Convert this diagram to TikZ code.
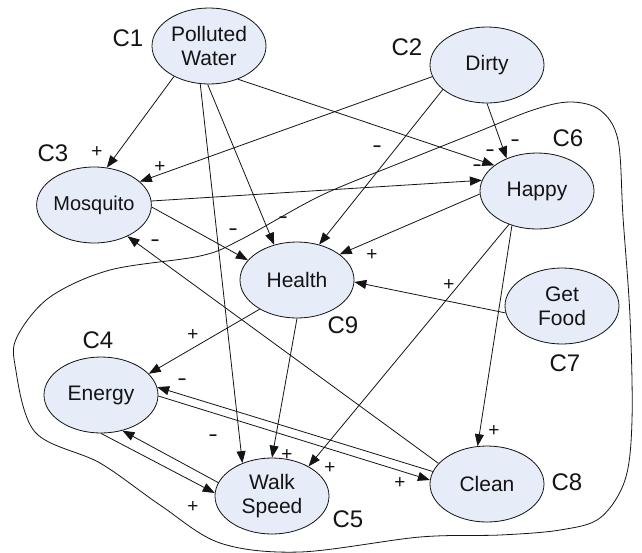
\documentclass[tikz,border=0pt]{standalone}
\usepackage{fontspec}
\setmainfont{Liberation Sans}
\usetikzlibrary{arrows.meta,shapes.geometric}
\definecolor{nodefill}{RGB}{230,236,248}
\definecolor{ink}{RGB}{20,20,20}
\newcommand{\negsign}{\scalebox{1.5}[1.15]{-}}
\begin{document}
\begin{tikzpicture}[x=1pt,y=-1pt,
  concept/.style={ellipse,draw=ink,line width=0.8pt,fill=nodefill,
    minimum width=114pt,minimum height=76pt,inner sep=0pt,align=center,
    font=\fontsize{21}{24}\selectfont,text=ink},
  tag/.style={font=\fontsize{24}{26}\selectfont,text=ink,inner sep=0pt},
  sign/.style={font=\fontsize{19}{20}\selectfont,text=ink,inner sep=0pt},
  link/.style={-{Triangle[length=12pt,width=9pt]},line width=0.8pt,draw=ink}]
\useasboundingbox (0,0) rectangle (642,552);
\fill[white] (0,0) rectangle (642,552);

% region boundary
\draw[line width=0.8pt,draw=ink] plot[smooth cycle,tension=0.55] coordinates {
  (15,365) (35,432) (100,463) (160,505) (220,543) (300,552) (420,537)
  (500,535) (560,530) (600,518) (625,480) (632,420) (630,317) (623,217)
  (618,140) (600,110) (570,102) (533,110) (470,135) (400,163) (320,196)
  (240,240) (200,256) (110,270) (50,297) (18,335)};

% concepts
\node[concept] (pw)  at (209,46)  {Polluted\\Water};
\node[concept] (dir) at (487,65)  {Dirty};
\node[concept,font=\fontsize{20}{22}\selectfont] (mos) at (94,205) {Mosquito};
\node[concept] (hap) at (537,191) {Happy};
\node[concept] (hea) at (297,280) {Health};
\node[concept] (food) at (562,306) {Get\\Food};
\node[concept] (ene) at (101,395) {Energy};
\node[concept] (ws)  at (272,496) {Walk\\Speed};
\node[concept] (cle) at (487,484) {Clean};

% concept tags
\node[tag] (c1) at (128,38)  {C1};
\node[tag] (c2) at (407,47)  {C2};
\node[tag] (c3) at (53,153)  {C3};
\node[tag] (c4) at (98,340)  {C4};
\node[tag] (c5) at (348,519) {C5};
\node[tag] (c6) at (568,138) {C6};
\node[tag] (c7) at (565,363) {C7};
\node[tag] (c8) at (567,482) {C8};
\node[tag] (c9) at (343,325) {C9};

% causal links
\draw[link] (pw.221.6) -- (mos.71);
\draw[link] (pw.-49.7) -- (hap.149.2);
\draw[link] (pw.268.5) -- (hea.123);
\draw[link] (pw.257) -- (ws.132.6);
\draw[link] (dir.192.5) -- (mos.27);
\draw[link] (dir.209) -- (hea.58);
\draw[link] (dir.270) -- (hap.133);
\draw[link] (mos.4) -- (hap.169.6);
\draw[link] (mos.-2) -- (hea.158);
\draw[link] (hap.183) -- (hea.31);
\draw[link] (hap.230) -- (ws.39);
\draw[link] (hap.234) -- (cle.104);
\draw[link] (food.187) -- (hea.358);
\draw[link] (hea.218) -- (ene.24);
\draw[link] (hea.270) -- (ws.90);
\draw[link] (cle.167.5) -- (ene.8);
\draw[link] (cle.157) -- (mos.317.5);
\draw[link] (ene.-1) -- (cle.176);
\draw[link] (ene.270) -- (ws.177);
\draw[link] (ws.166.7) -- (ene.301);

% link signs
\node[sign] (s1)  at (97,152)  {+};
\node[sign] (s2)  at (160,167) {+};
\node[sign] (s3)  at (477,168) {\negsign};
\node[sign] (s4)  at (490,153) {\negsign};
\node[sign] (s5)  at (515,143) {\negsign};
\node[sign] (s6)  at (283,220) {\negsign};
\node[sign] (s7)  at (377,149) {\negsign};
\node[sign] (s8)  at (233,232) {\negsign};
\node[sign] (s9)  at (372,255) {+};
\node[sign] (s10) at (449,285) {+};
\node[sign] (s11) at (155,243) {\negsign};
\node[sign] (s12) at (193,335) {+};
\node[sign] (s13) at (182,382) {\negsign};
\node[sign] (s14) at (213,438) {\negsign};
\node[sign] (s15) at (287,455) {+};
\node[sign] (s16) at (330,468) {+};
\node[sign] (s17) at (494,431) {+};
\node[sign] (s18) at (400,483) {+};
\node[sign] (s19) at (193,507) {+};
\end{tikzpicture}
\end{document}
